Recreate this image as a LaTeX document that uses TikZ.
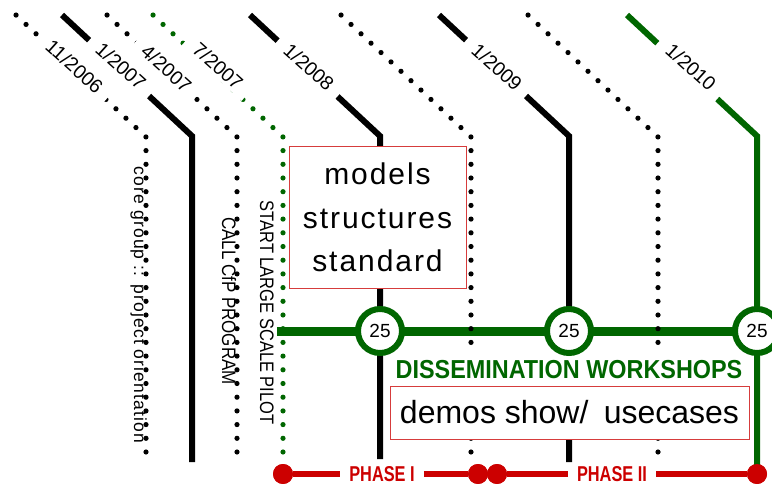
\documentclass[tikz,border=0pt]{standalone}
\usepackage{fontspec}
\setmainfont{Liberation Sans}
\newfontfamily\spacedfont[LetterSpace=6.5]{Liberation Sans}
\usetikzlibrary{calc}
\definecolor{dgreen}{RGB}{0,102,0}
\definecolor{dred}{RGB}{204,0,0}
\definecolor{boxred}{RGB}{214,60,60}
\begin{document}
\begin{tikzpicture}[x=1pt,y=-1pt,
  solidline/.style={line width=6pt},
  dotline/.style={line width=5.2pt,line cap=round,dash pattern=on 0pt off 13.7pt},
  datelbl/.style={rotate=-42,fill=white,inner xsep=11pt,inner ysep=3pt,font=\fontsize{19.5}{19.5}\selectfont},
  vlabel/.style={rotate=-90,anchor=base,inner sep=0pt},
  gcircle/.style={circle,draw=dgreen,line width=6pt,fill=white,minimum size=44pt,inner sep=0pt,font=\fontsize{19}{19}\selectfont},
  reddot/.style={circle,fill=dred,minimum size=20pt,inner sep=0pt},
  phaselbl/.style={text=dred,inner xsep=9pt,inner ysep=2pt,font=\bfseries\fontsize{21.5}{21.5}\selectfont},
  redbox/.style={draw=boxred,line width=1pt,fill=white,inner sep=0pt},
  redline/.style={draw=dred,line width=6pt}
]
\useasboundingbox (0,0) rectangle (772,484);

% green horizontal bar
\coordinate (gb0) at (277,331);
\coordinate (gb1) at (772,331);
\draw[line width=9pt,dgreen] (gb0) -- (gb1);

% timeline coordinates
\coordinate (s1) at (16,15);  \coordinate (b1) at (146,137); \coordinate (e1) at (146,452);
\coordinate (s2) at (62,15);  \coordinate (b2) at (192,136); \coordinate (e2) at (192,462);
\coordinate (s3) at (107,15); \coordinate (b3) at (237,137); \coordinate (e3) at (237,452);
\coordinate (s4) at (153,15); \coordinate (b4) at (283,137); \coordinate (e4) at (283,452);
\coordinate (s5) at (250,15); \coordinate (b5) at (380,136); \coordinate (e5) at (380,459);
\coordinate (s6) at (341,15); \coordinate (b6) at (471,137); \coordinate (e6) at (471,452);
\coordinate (s7) at (439,15); \coordinate (b7) at (569,136); \coordinate (e7) at (569,462);
\coordinate (s8) at (528,15); \coordinate (b8) at (658,137); \coordinate (e8) at (658,452);
\coordinate (s9) at (627,15); \coordinate (b9) at (757,136);

% red phase line nodes
\node[reddot] (r1) at (283,474) {};
\node[reddot] (r2) at (478,474) {};
\node[reddot] (r3) at (497,474) {};
\node[reddot] (r4) at (757,474) {};

% lines
\draw[dotline] (e1) -- (b1) -- (s1);
\draw[solidline] (s2) -- (b2) -- (e2);
\draw[dotline] (e3) -- (b3) -- (s3);
\draw[dotline,dgreen] (e4) -- (b4) -- (s4);
\draw[solidline] (s5) -- (b5) -- (e5);
\draw[dotline] (e6) -- (b6) -- (s6);
\draw[solidline] (s7) -- (b7) -- (e7);
\draw[dotline] (e8) -- (b8) -- (s8);
\draw[solidline,dgreen] (s9) -- (b9) -- (r4.center);

% date labels
\node[datelbl] (l1) at (74.5,66.5) {11/2006};
\node[datelbl] (l2) at (121,66) {1/2007};
\node[datelbl] (l3) at (166.5,68.5) {4/2007};
\node[datelbl] (l4) at (218,66) {7/2007};
\node[datelbl] (l5) at (309,67) {1/2008};
\node[datelbl] (l7) at (497,67) {1/2009};
\node[datelbl] (l9) at (691,67) {1/2010};

% vertical labels
\node[vlabel,font=\spacedfont\fontsize{17.5}{17.5}\selectfont] (v1) at (134,305) {core group :: project orientation};
\node[vlabel,font=\fontsize{19.5}{19.5}\selectfont] (v2) at (222,301) {\scalebox{0.87}[1]{CALL CfP PROGRAM}};
\node[vlabel,font=\fontsize{19.5}{19.5}\selectfont] (v3) at (260,312.5) {\scalebox{0.845}[1]{START LARGE SCALE PILOT}};

% models box
\node[redbox,minimum width=177pt,minimum height=141pt,align=center,
  font=\spacedfont\fontsize{30}{43.5}\selectfont] (models) at (377.5,217.5)
  {models\\structures\\standard};

% dissemination text
\node[fill=white,inner xsep=3pt,inner ysep=9pt,text=dgreen,
  font=\bfseries\fontsize{26}{26}\selectfont] (diss) at (569,370)
  {\scalebox{0.9}[1]{DISSEMINATION WORKSHOPS}};

% circles
\node[gcircle] (c1) at (380,331) {25};
\node[gcircle] (c2) at (569,331) {25};
\node[gcircle] (c3) at (757,331) {25};

% demos box
\node[redbox,minimum width=359pt,minimum height=53pt,
  font=\fontsize{32}{32}\selectfont] (demos) at (569.5,412.5)
  {demos show/\hspace{0.2em} usecases};

% phase line
\node[phaselbl] (p1) at (382,474) {\scalebox{0.76}[1]{PHASE I}};
\node[phaselbl] (p2) at (612,474) {\scalebox{0.76}[1]{PHASE II}};
\draw[redline] (r1) -- (p1) -- (r2);
\draw[redline] (r3) -- (p2) -- (r4);
\node[reddot] at (r1) {};
\node[reddot] at (r2) {};
\node[reddot] at (r3) {};
\node[reddot] at (r4) {};
\end{tikzpicture}
\end{document}
